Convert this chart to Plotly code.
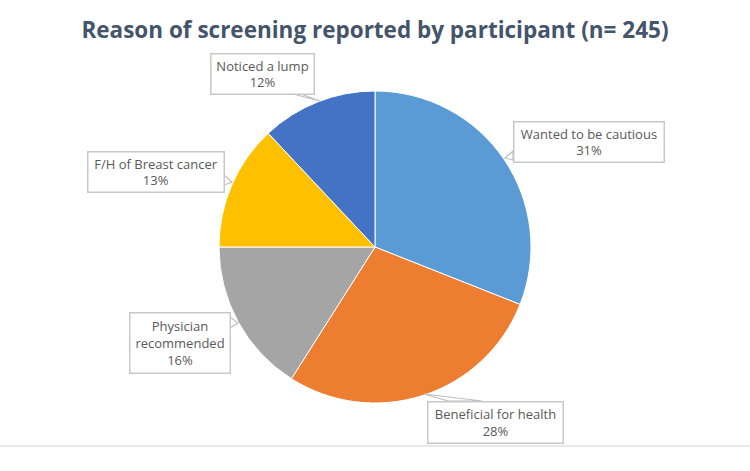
import plotly.graph_objects as go

# Data
categories = ["Wanted to be cautious", "Beneficial for health", "Physician recommended",
              "F/H of Breast cancer", "Noticed a lump"]
label_text = ["Wanted to be cautious", "Beneficial for health", "Physician<br>recommended",
              "F/H of Breast cancer", "Noticed a lump"]
percent = [31, 28, 16, 13, 12]
colors = ["#5B9BD5", "#ED7D31", "#A5A5A5", "#FFC000", "#4472C4"]

W, H = 750, 471
T, B = 91, 403  # pie vertical extent (pixels)


def px(x):
    return x / W


def py(y):
    return (B - y) / (B - T)


fig = go.Figure(go.Pie(
    labels=categories,
    values=percent,
    sort=False,
    direction="clockwise",
    rotation=0,
    marker=dict(colors=colors, line=dict(color="white", width=1)),
    textinfo="none",
    hoverinfo="label+percent",
    showlegend=False,
))

# callout boxes: bounds (x0, y0, x1, y1) in px, leader wedge (A, tip, B)
boxes = [
    dict(b=(513, 121, 664, 162), wedge=[(513, 151), (505, 158), (513, 160)]),
    dict(b=(427, 401, 563, 443), wedge=[(448, 401), (424, 394), (482, 401)]),
    dict(b=(129, 312, 230, 373), wedge=[(230, 317), (238, 323), (230, 328)]),
    dict(b=(87, 151, 224, 192), wedge=[(224, 175), (232, 182), (224, 185)]),
    dict(b=(210, 53, 314, 94), wedge=[(293, 94), (320, 101), (301, 94)]),
]

shapes = []
annotations = []
for i, bx in enumerate(boxes):
    (ax, ay), (tx, ty), (bx2, by2) = bx["wedge"]
    x0, y0, x1, y1 = bx["b"]
    path = f"M {px(ax)} {py(ay)} L {px(tx)} {py(ty)} L {px(bx2)} {py(by2)} Z"
    shapes.append(dict(type="path", xref="paper", yref="paper", path=path,
                       fillcolor="white", line=dict(color="#BFBFBF", width=1.2)))
    annotations.append(dict(
        x=px((x0 + x1) / 2), y=py((y0 + y1) / 2), xref="paper", yref="paper",
        text=f"{label_text[i]}<br>{percent[i]}%",
        showarrow=False, align="center", valign="middle",
        width=x1 - x0 - 4, height=y1 - y0 - 4,
        font=dict(family="Open Sans", size=13, color="#595959"),
        bgcolor="white", bordercolor="#C8C8C8", borderwidth=1.5, borderpad=1,
        xanchor="center", yanchor="middle",
    ))

# bottom separator line
shapes.append(dict(type="line", xref="paper", yref="paper", x0=0, x1=1,
                   y0=py(446), y1=py(446), line=dict(color="#DCE2E2", width=1.5)))

fig.update_layout(
    width=W, height=H,
    margin=dict(l=0, r=0, t=T, b=H - B),
    paper_bgcolor="white", plot_bgcolor="white",
    title=dict(text="<b>Reason of screening reported by participant (n= 245)</b>",
               x=0.5, xanchor="center", y=1 - 30 / H, yanchor="middle",
               font=dict(family="Open Sans", size=22.5, color="#44546A")),
    shapes=shapes, annotations=annotations,
)

fig.write_html("out.html")
